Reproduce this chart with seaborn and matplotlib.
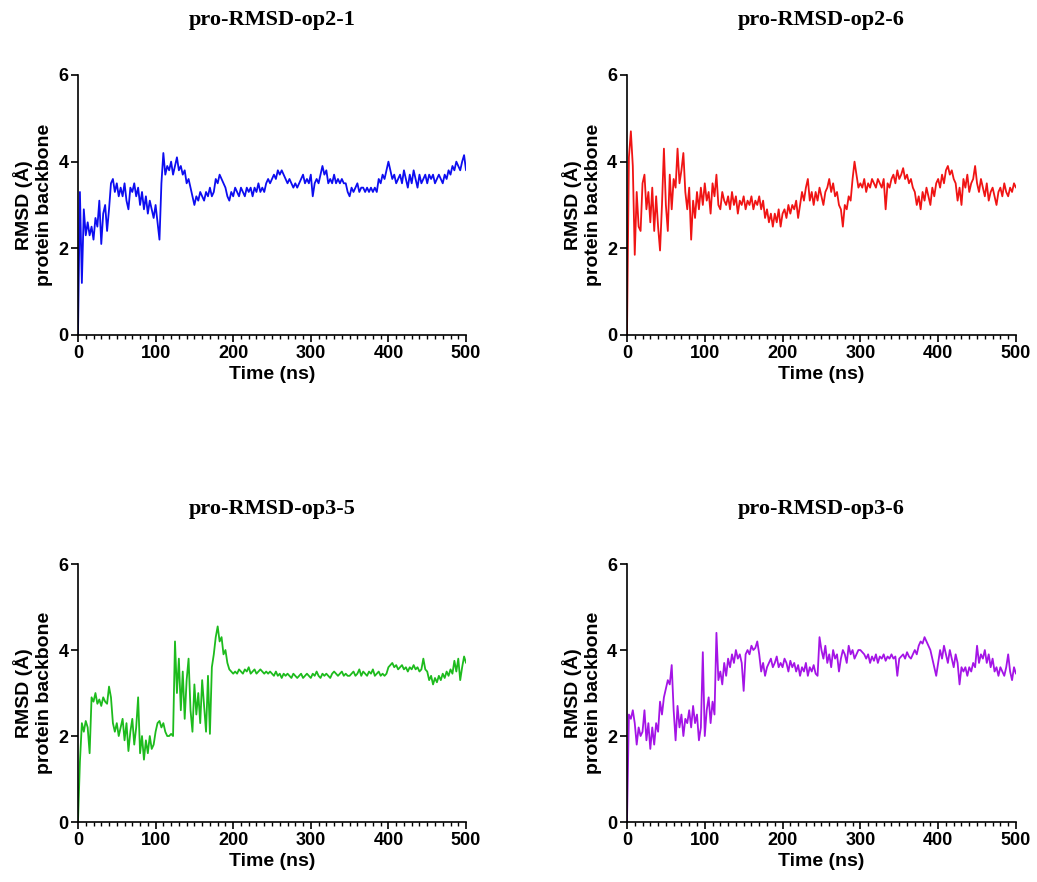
import numpy as np
import pandas as pd
import matplotlib
matplotlib.use("Agg")
import matplotlib.pyplot as plt
from matplotlib.ticker import MultipleLocator
import seaborn as sns

# RMSD of the protein backbone (Å), sampled every 2.5 ns over 0-500 ns
rmsd_op2_1 = [
    0.0, 3.3, 1.2, 2.9, 2.3, 2.6, 2.3, 2.5, 2.2, 2.7, 2.5, 3.1, 2.1, 2.8, 3.0, 2.4, 2.9, 3.5, 3.6, 3.3,
    3.5, 3.2, 3.4, 3.2, 3.5, 3.1, 2.9, 3.4, 3.3, 3.5, 3.2, 3.4, 3.0, 3.3, 2.9, 3.2, 2.8, 3.1, 2.9, 2.7,
    3.0, 2.6, 2.2, 3.5, 4.2, 3.7, 3.9, 3.8, 4.0, 3.7, 3.9, 4.1, 3.8, 3.9, 3.7, 3.8, 3.5, 3.6, 3.4, 3.2,
    3.0, 3.2, 3.1, 3.3, 3.2, 3.1, 3.3, 3.2, 3.4, 3.2, 3.3, 3.6, 3.5, 3.7, 3.6, 3.5, 3.4, 3.2, 3.1, 3.3,
    3.2, 3.4, 3.3, 3.2, 3.4, 3.3, 3.2, 3.4, 3.3, 3.4, 3.2, 3.4, 3.3, 3.5, 3.3, 3.4, 3.3, 3.5, 3.6, 3.5,
    3.6, 3.7, 3.6, 3.8, 3.7, 3.8, 3.7, 3.6, 3.5, 3.6, 3.5, 3.4, 3.5, 3.4, 3.5, 3.6, 3.7, 3.5, 3.6, 3.5,
    3.7, 3.2, 3.5, 3.6, 3.5, 3.7, 3.9, 3.7, 3.8, 3.5, 3.6, 3.5, 3.7, 3.5, 3.6, 3.5, 3.6, 3.5, 3.5, 3.3,
    3.2, 3.4, 3.3, 3.4, 3.5, 3.3, 3.4, 3.4, 3.3, 3.4, 3.3, 3.4, 3.3, 3.4, 3.3, 3.6, 3.5, 3.7, 3.6, 3.8,
    4.0, 3.8, 3.6, 3.7, 3.5, 3.6, 3.7, 3.5, 3.8, 3.6, 3.4, 3.7, 3.5, 3.8, 3.6, 3.4, 3.7, 3.5, 3.6, 3.7,
    3.5, 3.7, 3.6, 3.7, 3.5, 3.6, 3.7, 3.6, 3.5, 3.7, 3.6, 3.8, 3.7, 3.9, 3.8, 4.0, 3.9, 3.8, 4.0, 4.15,
    3.8,
]

rmsd_op2_6 = [
    0.0, 4.1, 4.7, 3.9, 1.85, 3.3, 2.5, 2.4, 3.5, 3.7, 2.9, 3.3, 2.6, 3.4, 2.4, 3.2, 2.5, 1.95, 3.0, 4.3,
    3.0, 2.4, 3.7, 2.9, 3.6, 3.4, 4.3, 3.5, 3.8, 4.2, 3.3, 2.9, 3.4, 2.2, 3.1, 2.7, 3.3, 2.9, 3.4, 3.0,
    3.5, 3.1, 3.3, 2.8, 3.5, 3.2, 3.7, 3.0, 2.9, 3.3, 3.1, 3.0, 3.2, 2.9, 3.3, 3.0, 3.2, 2.8, 3.1, 3.0,
    3.2, 2.9, 3.1, 3.0, 3.2, 2.9, 3.1, 3.0, 3.2, 2.9, 3.1, 2.7, 2.9, 2.6, 2.8, 2.5, 2.8, 2.6, 2.9, 2.5,
    2.8, 2.9, 2.7, 3.0, 2.8, 3.0, 2.9, 3.1, 2.7, 3.0, 3.3, 3.1, 3.4, 3.6, 3.1, 3.3, 3.0, 3.3, 3.1, 3.4,
    3.2, 3.0, 3.3, 3.4, 3.6, 3.3, 3.5, 3.2, 3.3, 3.0, 2.9, 2.5, 3.0, 2.9, 3.2, 3.1, 3.6, 4.0, 3.7, 3.4,
    3.5, 3.4, 3.6, 3.3, 3.5, 3.4, 3.6, 3.5, 3.4, 3.6, 3.5, 3.4, 3.6, 2.9, 3.5, 3.4, 3.6, 3.7, 3.5, 3.8,
    3.6, 3.7, 3.85, 3.6, 3.7, 3.5, 3.6, 3.4, 3.3, 3.0, 3.2, 2.9, 3.3, 3.1, 3.4, 3.2, 3.0, 3.4, 3.2, 3.5,
    3.6, 3.4, 3.7, 3.5, 3.8, 3.9, 3.7, 3.8, 3.6, 3.5, 3.1, 3.4, 3.0, 3.6, 3.4, 3.7, 3.3, 3.5, 3.6, 3.9,
    3.5, 3.3, 3.6, 3.4, 3.2, 3.5, 3.1, 3.3, 3.4, 3.2, 3.0, 3.3, 3.4, 3.2, 3.5, 3.3, 3.2, 3.4, 3.3, 3.5,
    3.4,
]

rmsd_op3_5 = [
    0.0, 1.4, 2.3, 2.1, 2.35, 2.2, 1.6, 2.9, 2.8, 3.0, 2.75, 2.85, 2.7, 2.9, 2.8, 2.75, 3.15, 2.9, 2.3, 2.1,
    2.3, 2.0, 2.2, 2.4, 1.9, 2.3, 1.65, 2.1, 2.4, 1.8, 2.2, 2.9, 1.6, 2.0, 1.45, 1.9, 1.6, 2.0, 1.7, 1.8,
    2.1, 2.3, 2.35, 2.2, 2.3, 2.1, 2.0, 2.0, 2.05, 2.0, 4.2, 3.0, 3.8, 2.6, 3.5, 2.4, 3.3, 3.8, 2.6, 2.1,
    3.2, 2.5, 3.0, 2.3, 3.3, 2.7, 2.1, 3.4, 2.05, 3.6, 3.9, 4.3, 4.55, 4.2, 4.3, 3.9, 4.0, 3.7, 3.55, 3.5,
    3.45, 3.5, 3.45, 3.55, 3.5, 3.45, 3.55, 3.5, 3.6, 3.45, 3.5, 3.55, 3.45, 3.5, 3.55, 3.5, 3.45, 3.5, 3.45, 3.5,
    3.45, 3.4, 3.5, 3.4, 3.45, 3.35, 3.45, 3.4, 3.45, 3.4, 3.35, 3.45, 3.4, 3.35, 3.4, 3.45, 3.35, 3.4, 3.45, 3.4,
    3.35, 3.45, 3.4, 3.5, 3.4, 3.35, 3.45, 3.4, 3.45, 3.4, 3.35, 3.45, 3.5, 3.45, 3.4, 3.45, 3.5, 3.4, 3.45, 3.4,
    3.4, 3.45, 3.5, 3.4, 3.45, 3.55, 3.4, 3.5, 3.45, 3.4, 3.5, 3.45, 3.55, 3.4, 3.45, 3.5, 3.4, 3.45, 3.4, 3.45,
    3.6, 3.65, 3.7, 3.6, 3.65, 3.55, 3.6, 3.65, 3.55, 3.6, 3.5, 3.6, 3.55, 3.65, 3.55, 3.6, 3.5, 3.55, 3.8, 3.55,
    3.5, 3.3, 3.4, 3.2, 3.35, 3.25, 3.4, 3.3, 3.45, 3.35, 3.5, 3.4, 3.55, 3.45, 3.75, 3.5, 3.8, 3.3, 3.6, 3.85,
    3.7,
]

rmsd_op3_6 = [
    0.0, 2.5, 2.4, 2.6, 2.3, 1.8, 2.2, 2.0, 2.1, 2.6, 1.9, 2.3, 1.7, 2.2, 1.8, 2.3, 2.1, 2.8, 2.5, 2.9,
    3.1, 3.3, 3.2, 3.65, 2.6, 1.9, 2.7, 2.2, 2.5, 2.0, 2.4, 2.3, 2.6, 2.2, 2.7, 2.3, 2.5, 1.9, 2.2, 3.95,
    2.0, 2.6, 2.9, 2.3, 2.8, 2.5, 4.4, 3.3, 3.5, 3.2, 3.7, 3.4, 3.8, 3.6, 3.9, 3.7, 4.0, 3.8, 3.9, 3.7,
    3.05, 3.9, 4.0, 3.9, 4.1, 4.0, 4.05, 4.2, 3.9, 3.5, 3.7, 3.4, 3.6, 3.7, 3.8, 3.6, 3.7, 3.85, 3.6, 3.7,
    3.6, 3.8, 3.7, 3.5, 3.75, 3.6, 3.7, 3.5, 3.65, 3.4, 3.6, 3.5, 3.7, 3.4, 3.6, 3.5, 3.65, 3.45, 3.4, 4.3,
    4.0, 3.8, 4.1, 3.7, 3.9, 3.6, 4.0, 3.8, 3.9, 3.5, 3.8, 4.0, 3.9, 3.7, 4.1, 3.9, 4.0, 3.8, 3.9, 4.0,
    4.0, 3.95, 3.9, 3.8, 3.9, 3.7, 3.85, 3.75, 3.9, 3.7, 3.85, 3.8, 3.9, 3.75, 3.85, 3.8, 3.9, 3.8, 3.85, 3.4,
    3.8, 3.85, 3.9, 3.8, 3.95, 3.85, 3.8, 3.9, 4.0, 3.9, 4.1, 4.2, 4.15, 4.3, 4.2, 4.1, 4.0, 3.8, 3.6, 3.4,
    3.7, 4.0, 3.8, 4.1, 3.9, 3.7, 4.0, 3.8, 3.6, 3.9, 3.7, 3.2, 3.6, 3.5, 3.6, 3.4, 3.6, 3.5, 3.7, 3.6,
    4.1, 3.7, 3.9, 3.8, 4.0, 3.7, 3.9, 3.6, 3.8, 3.5, 3.6, 3.4, 3.6, 3.5, 3.4, 3.6, 3.9, 3.5, 3.3, 3.6,
    3.45,
]

titles = ["pro-RMSD-op2-1", "pro-RMSD-op2-6", "pro-RMSD-op3-5", "pro-RMSD-op3-6"]
series = [rmsd_op2_1, rmsd_op2_6, rmsd_op3_5, rmsd_op3_6]
colors = ["#0d0df0", "#f01414", "#1dbb1d", "#a414e6"]
x_ticks = [0, 100, 200, 300, 400, 500]
y_ticks = [0, 2, 4, 6]

sns.set_theme(style="ticks")
plt.rcParams["font.family"] = ["Liberation Sans", "DejaVu Sans"]
plt.rcParams["font.weight"] = "bold"
plt.rcParams["text.color"] = "black"
plt.rcParams["axes.labelcolor"] = "black"
plt.rcParams["xtick.color"] = "black"
plt.rcParams["ytick.color"] = "black"

fig = plt.figure(figsize=(10.37, 8.82), dpi=100)

# axes rectangles in figure fractions
positions = [
    [0.0752, 0.6202, 0.3742, 0.2948],
    [0.6046, 0.6202, 0.3751, 0.2948],
    [0.0752, 0.0680, 0.3742, 0.2925],
    [0.6046, 0.0680, 0.3751, 0.2925],
]

for title, values, color, pos in zip(titles, series, colors, positions):
    ax = fig.add_axes(pos)
    time_ns = np.linspace(0, 500, len(values))
    df = pd.DataFrame({"time": time_ns, "rmsd": values})
    sns.lineplot(data=df, x="time", y="rmsd", ax=ax, color=color,
                 linewidth=1.3, estimator=None)
    ax.set_xlim(0, 500)
    ax.set_ylim(0, 6)
    ax.set_xticks(x_ticks)
    ax.set_yticks(y_ticks)
    ax.xaxis.set_minor_locator(MultipleLocator(10))
    sns.despine(ax=ax)
    for side in ("left", "bottom"):
        ax.spines[side].set_linewidth(1.2)
        ax.spines[side].set_color("black")
    ax.tick_params(axis="both", which="major", labelsize=13, width=1.2,
                   length=5, colors="black", pad=2)
    ax.tick_params(axis="x", which="minor", width=1.0, length=3, color="black")
    for lab in ax.get_xticklabels() + ax.get_yticklabels():
        lab.set_fontweight("bold")
    ax.set_xlabel("Time (ns)", fontsize=14, fontweight="bold", labelpad=3,
                  color="black")
    ax.set_ylabel("RMSD (Å)\nprotein backbone", fontsize=14, fontweight="bold",
                  labelpad=4, color="black")
    ax.set_title(title, fontsize=16, fontweight="bold", color="black",
                 family=["Liberation Serif", "DejaVu Serif"], pad=36)
    ax.grid(False)

fig.savefig("out.png", dpi=100, facecolor="white")
